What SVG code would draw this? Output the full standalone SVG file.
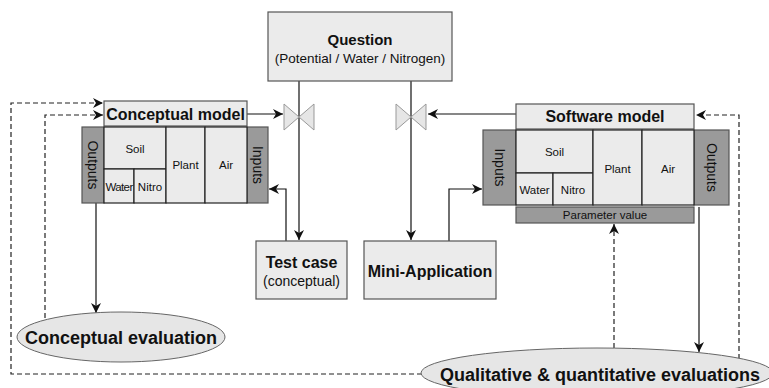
<svg xmlns="http://www.w3.org/2000/svg" width="769" height="388" viewBox="0 0 769 388">
<defs>
<marker id="ah" viewBox="0 0 10 10" refX="10" refY="5" markerWidth="10" markerHeight="10" markerUnits="userSpaceOnUse" orient="auto">
<path d="M0,0 L10,5 L0,10 L3,5 Z" fill="#111"/>
</marker>
</defs>
<style>
.box{fill:#ebebeb;stroke:#555;stroke-width:1.2}
.dark{fill:#9a9a9a;stroke:#555;stroke-width:1.2}
.cell{fill:#ebebeb;stroke:#222;stroke-width:1.2}
.valve{fill:#e6e6e6;stroke:#999;stroke-width:1}
.t{font-family:"Liberation Sans",Arial,sans-serif;fill:#111;text-anchor:middle}
.b{font-weight:bold}
.s{font-size:11.5px}
.r{font-size:14px}
.line{fill:none;stroke:#111;stroke-width:1.2}
.dash{fill:none;stroke:#222;stroke-width:1.2;stroke-dasharray:5,3}
.ell{fill:#e6e6e6;stroke:#666;stroke-width:1}
</style>
<rect width="769" height="388" fill="#fff"/>

<g id="connectors">
<path class="dash" d="M422,374 H11 V103 H103" marker-end="url(#ah)"/>
<path class="dash" d="M45,318 V115 H103" marker-end="url(#ah)"/>
<path class="dash" d="M739,367 V115 H696" marker-end="url(#ah)"/>
<path class="dash" d="M614,348 V224" marker-end="url(#ah)"/>
<path class="line" d="M247,114 H283" marker-end="url(#ah)"/>
<path class="line" d="M516,114 H428" marker-end="url(#ah)"/>
<path class="line" d="M299,81 V240" marker-end="url(#ah)"/>
<path class="line" d="M411,81 V240" marker-end="url(#ah)"/>
<path class="line" d="M286,241 V189 H269" marker-end="url(#ah)"/>
<path class="line" d="M449,241 V189 H482" marker-end="url(#ah)"/>
<path class="line" d="M96,203 V313" marker-end="url(#ah)"/>
<path class="line" d="M699,207 V352" marker-end="url(#ah)"/>
</g>

<g id="valve-left">
<polygon class="valve" points="284,104 299,117 284,130"/>
<polygon class="valve" points="314,104 299,117 314,130"/>
</g>
<g id="valve-right">
<polygon class="valve" points="396,104 411,117 396,130"/>
<polygon class="valve" points="426,104 411,117 426,130"/>
</g>

<g id="question">
<rect class="box" x="268" y="12" width="184" height="69"/>
<text class="t b" x="360" y="45" font-size="15">Question</text>
<text class="t" x="360" y="63" font-size="13.5">(Potential / Water / Nitrogen)</text>
</g>

<g id="conceptual-model">
<rect class="box" x="104" y="101" width="143" height="25"/>
<text class="t b" x="175.5" y="120" font-size="16">Conceptual model</text>
<rect class="dark" x="82" y="127" width="22" height="76"/>
<rect class="dark" x="247" y="127" width="21" height="76"/>
<rect class="cell" x="104" y="127" width="62" height="42"/>
<rect class="cell" x="104" y="169" width="30" height="34"/>
<rect class="cell" x="134" y="169" width="32" height="34"/>
<rect class="cell" x="166" y="127" width="39" height="76"/>
<rect class="cell" x="205" y="127" width="42" height="76"/>
<text class="t s" x="135" y="153">Soil</text>
<text class="t s" x="119" y="191" letter-spacing="-0.6">Water</text>
<text class="t s" x="150" y="191">Nitro</text>
<text class="t s" x="185.5" y="169">Plant</text>
<text class="t s" x="226" y="169">Air</text>
<text class="t r" transform="translate(88,165) rotate(90)">Outputs</text>
<text class="t r" transform="translate(252.5,165) rotate(90)">Inputs</text>
</g>

<g id="software-model">
<rect class="box" x="516" y="104" width="178" height="25"/>
<text class="t b" x="605" y="122" font-size="16">Software model</text>
<rect class="dark" x="483" y="130" width="33" height="75"/>
<rect class="dark" x="694" y="130" width="35" height="75"/>
<rect class="cell" x="516" y="130" width="77" height="43"/>
<rect class="cell" x="516" y="173" width="37" height="32"/>
<rect class="cell" x="553" y="173" width="40" height="32"/>
<rect class="cell" x="593" y="130" width="49" height="75"/>
<rect class="cell" x="642" y="130" width="52" height="75"/>
<rect class="dark" x="516" y="207" width="178" height="16"/>
<text class="t s" x="554.5" y="156">Soil</text>
<text class="t s" x="534.5" y="194">Water</text>
<text class="t s" x="573" y="194">Nitro</text>
<text class="t s" x="617.5" y="173">Plant</text>
<text class="t s" x="668" y="173">Air</text>
<text class="t r" transform="translate(495,167.5) rotate(90)">Inputs</text>
<text class="t r" transform="translate(706.5,167.5) rotate(90)">Outputs</text>
<text class="t s" x="605" y="219">Parameter value</text>
</g>

<g id="test-case">
<rect class="box" x="256" y="241" width="91" height="58"/>
<text class="t b" x="301.5" y="268" font-size="16">Test case</text>
<text class="t" x="301.5" y="286" font-size="14">(conceptual)</text>
</g>

<g id="mini-application">
<rect class="box" x="364" y="241" width="132" height="58"/>
<text class="t b" x="430" y="277" font-size="16">Mini-Application</text>
</g>

<g id="conceptual-evaluation">
<ellipse class="ell" cx="121" cy="337" rx="104" ry="25"/>
<text class="t b" x="121" y="344" font-size="18">Conceptual evaluation</text>
</g>

<g id="qualitative-evaluations">
<ellipse class="ell" cx="597" cy="373" rx="176" ry="25"/>
<text class="t b" x="600" y="381" font-size="18">Qualitative &amp; quantitative evaluations</text>
</g>
</svg>
